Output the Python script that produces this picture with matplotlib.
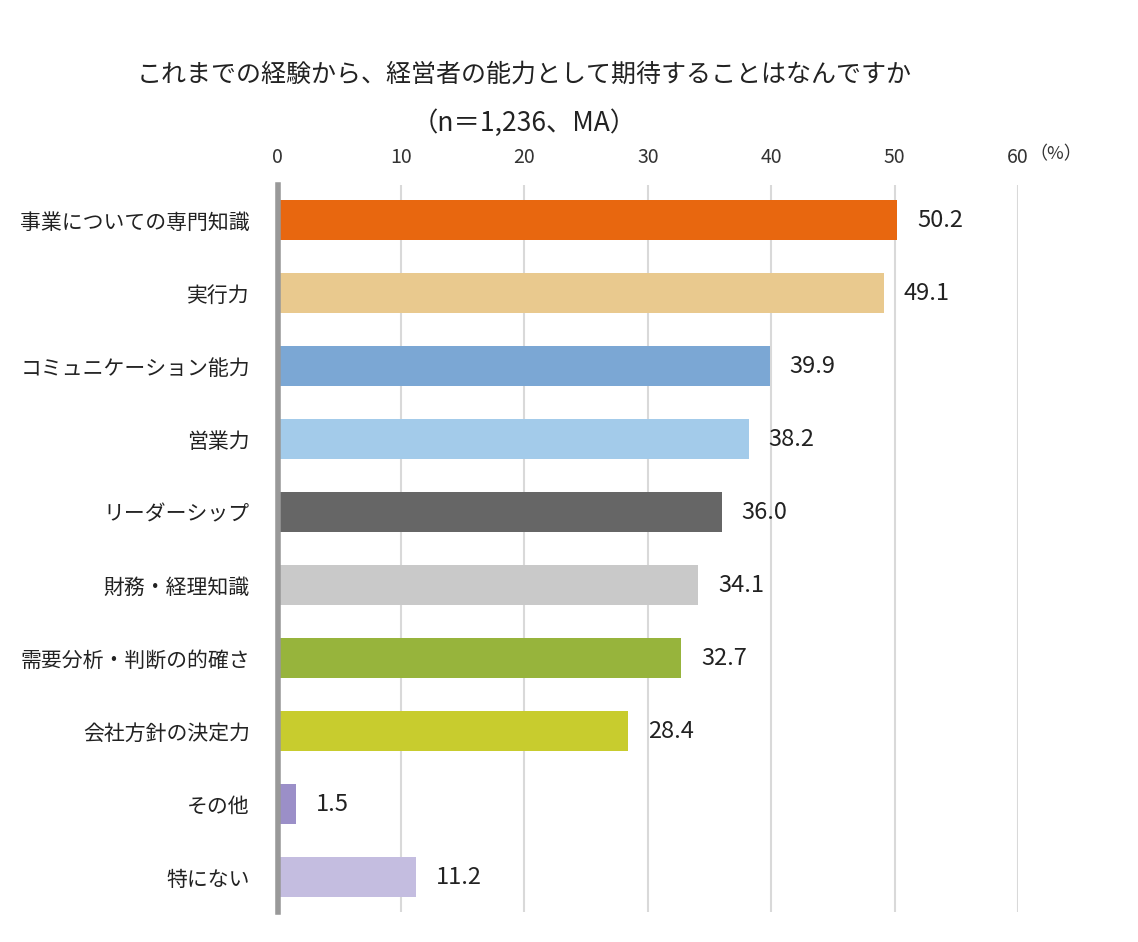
import matplotlib
matplotlib.use("Agg")
import matplotlib.pyplot as plt

plt.rcParams['font.family'] = ['Noto Sans CJK JP', 'DejaVu Sans']

categories = ["事業についての専門知識", "実行力", "コミュニケーション能力", "営業力", "リーダーシップ",
              "財務・経理知識", "需要分析・判断の的確さ", "会社方針の決定力", "その他", "特にない"]
values = [50.2, 49.1, 39.9, 38.2, 36.0, 34.1, 32.7, 28.4, 1.5, 11.2]
colors = ["#E8670F", "#E9C98E", "#7BA7D4", "#A3CBEA", "#666666",
          "#C9C9C9", "#97B43C", "#C8CC2E", "#9B8FC8", "#C4BDE0"]
ticks = [0, 10, 20, 30, 40, 50, 60]
title = "これまでの経験から、経営者の能力として期待することはなんですか"
subtitle = "（n＝1,236、MA）"

fig = plt.figure(figsize=(11.38, 9.42), dpi=100)
ax = fig.add_axes([0.244, 0.0318, 0.6506, 0.7718])

y = list(range(len(categories)))
ax.barh(y, values, height=0.56, color=colors, zorder=3)
ax.set_xlim(0, 60)
ax.set_ylim(len(categories) - 0.52, -0.48)

for yi, v in zip(y, values):
    ax.text(v + 1.6, yi, f"{v:.1f}", va="center", ha="left", fontsize=17, color="#222222", zorder=4)

ax.set_xticks(ticks)
ax.xaxis.tick_top()
ax.tick_params(axis="x", length=0, pad=12, labelsize=14, labelcolor="#333333")
ax.set_yticks(y)
ax.set_yticklabels(categories, fontsize=15, color="#222222")
ax.tick_params(axis="y", length=0, pad=20)

for t in ticks[1:]:
    ax.axvline(t, color="#D9D9D9", linewidth=1.5, zorder=1)

for s in ["top", "right", "bottom"]:
    ax.spines[s].set_visible(False)
ax.spines["left"].set_color("#999999")
ax.spines["left"].set_linewidth(4)
ax.spines["left"].set_zorder(5)

fig.text(0.461, 0.921, title, ha="center", va="center", fontsize=18, color="#222222")
fig.text(0.461, 0.869, subtitle, ha="center", va="center", fontsize=19, color="#222222")
fig.text(0.928, 0.836, "（%）", ha="center", va="center", fontsize=13, color="#333333")

fig.savefig("out.png", dpi=100)
